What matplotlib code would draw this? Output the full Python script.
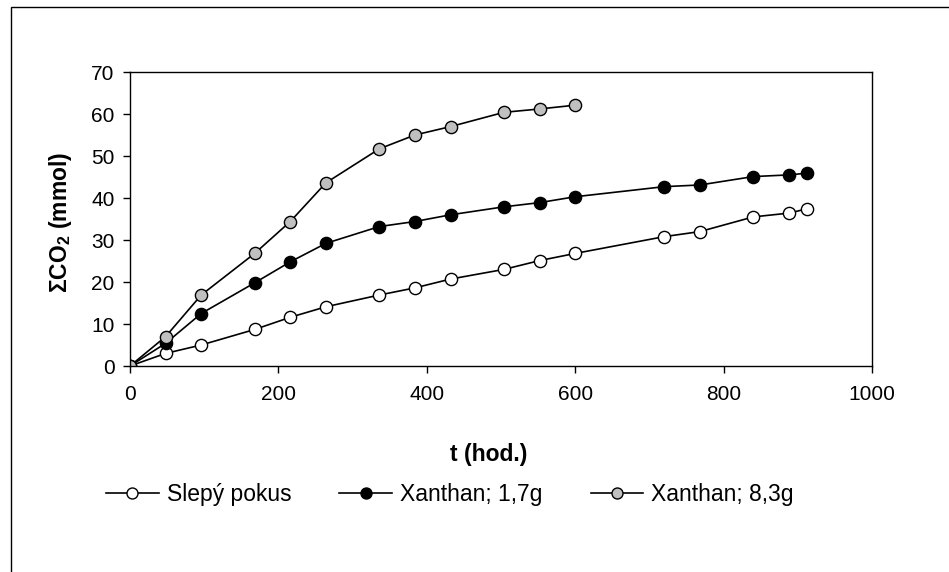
import numpy as np
import matplotlib.pyplot as plt
from matplotlib.patches import Rectangle

plt.rcParams['font.family'] = ['Liberation Sans', 'DejaVu Sans']
plt.rcParams['mathtext.fontset'] = 'custom'
plt.rcParams['mathtext.rm'] = 'Liberation Sans'
plt.rcParams['mathtext.bf'] = 'Liberation Sans:bold'

# time in hours
t_all = [0, 48, 96, 168, 216, 264, 336, 384, 432, 504, 552, 600, 720, 768, 840, 888, 912]
t_83 = t_all[:12]

slepy = [0, 3.0, 5.0, 8.7, 11.6, 14.1, 16.9, 18.6, 20.7, 23.0, 25.1, 26.8, 30.8, 32.0, 35.5, 36.4, 37.4]
xanthan_17 = [0, 5.4, 12.5, 19.8, 24.8, 29.2, 33.2, 34.4, 36.0, 37.9, 38.9, 40.3, 42.7, 43.1, 45.1, 45.5, 45.9]
xanthan_83 = [0, 7.0, 16.9, 26.8, 34.4, 43.6, 51.7, 55.0, 57.0, 60.4, 61.2, 62.1]

W, H = 949, 572
fig = plt.figure(figsize=(W/100, H/100), dpi=100)
ax = fig.add_axes([130/W, 1-366/H, 742/W, 294/H])

# outer frame (only left/top edge visible in the original)
fig.patches.append(Rectangle((11/W, -0.1), 1.2, 1 - 7/H + 0.1, transform=fig.transFigure,
                             fill=False, edgecolor='black', lw=1.0))

style = dict(color='black', lw=1.2, marker='o', ms=8.8, mec='black', mew=1.0)
ax.plot(t_all, slepy, mfc='white', label='Slepý pokus', **style)
ax.plot(t_all, xanthan_17, mfc='black', label='Xanthan; 1,7g', **style)
ax.plot(t_83, xanthan_83, mfc='#c0c0c0', label='Xanthan; 8,3g', **style)

ax.set_xlim(0, 1000)
ax.set_ylim(0, 70)
ax.set_xticks(np.arange(0, 1001, 200))
ax.set_yticks(np.arange(0, 71, 10))
ax.tick_params(labelsize=15, length=5, width=1)
ax.tick_params(axis='x', pad=9)
ax.tick_params(axis='y', pad=6)
for s in ax.spines.values():
    s.set_linewidth(1.0)

fig.text(489/W, 1-455/H, 't (hod.)', fontsize=16.5, fontweight='bold', ha='center', va='center')
fig.text(60/W, 1-222/H, r'ΣCO$_\mathbf{2}$ (mmol)', fontsize=16.5, fontweight='bold',
         rotation=90, ha='center', va='center')

fig.legend(loc='center left', bbox_to_anchor=(106/W, 1-495/H), ncol=3, frameon=False,
           fontsize=16.5, handlelength=2.3, markerscale=0.9, columnspacing=2.1,
           handletextpad=0.35, borderpad=0, borderaxespad=0)

fig.savefig('out.png', dpi=100)
